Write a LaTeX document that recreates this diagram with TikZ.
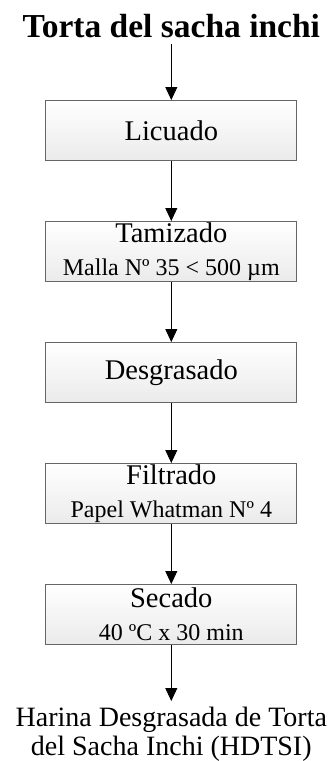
\documentclass[tikz,border=0pt]{standalone}
\usepackage{fontspec}
\setmainfont{Liberation Serif}
\usepackage{tikz}
\usetikzlibrary{positioning,arrows.meta}

\begin{document}
\begin{tikzpicture}[
			x=1pt, y=-1pt,
			node distance=60pt,
			etapa/.style = {draw=black!60, line width=1pt, top color=white, bottom color=black!8,
				minimum width=251pt, minimum height=60pt, inner sep=0pt, align=center,
				font=\fontsize{28.5}{34}\selectfont},
			flecha/.style = {-{Triangle[width=12pt,length=13pt]}, line width=0.8pt}
		]
		\useasboundingbox (0,0) rectangle (335,761);
		\node[etapa] (licuado) at (171.3,130.5) {Licuado};
		\node[above=62pt of licuado, inner sep=0pt, font=\fontsize{33.5}{40}\bfseries\selectfont] (torta) {Torta del sacha inchi};
		% Etapas.
		\node[etapa, below=of licuado] (tamizado) {Tamizado\\[-1pt]{\fontsize{24}{30}\selectfont Malla Nº 35 < 500 µm}};
		\node[etapa, below=of tamizado] (desgrasado) {Desgrasado};
		\node[etapa, below=of desgrasado] (filtrado) {Filtrado\\[-1pt]{\fontsize{24}{30}\selectfont Papel Whatman Nº 4}};
		\node[etapa, below=of filtrado] (secado) {Secado\\[-1pt]{\fontsize{24}{30}\selectfont 40 ºC x 30 min}};
		% Producto.
		\node[below=56pt of secado, inner xsep=2pt, inner ysep=6pt, align=center, font=\fontsize{28}{29}\selectfont] (harina) {Harina Desgrasada de Torta\\del Sacha Inchi (HDTSI)};
		
		\draw[flecha] ([yshift=-6pt]torta.south) to (licuado);
		\draw[flecha] (licuado) to (tamizado);
		\draw[flecha] (tamizado) to (desgrasado);
		\draw[flecha] (desgrasado) to (filtrado);
		\draw[flecha] (filtrado) to (secado);
		\draw[flecha] (secado) to (harina);
	\end{tikzpicture}
\end{document}
